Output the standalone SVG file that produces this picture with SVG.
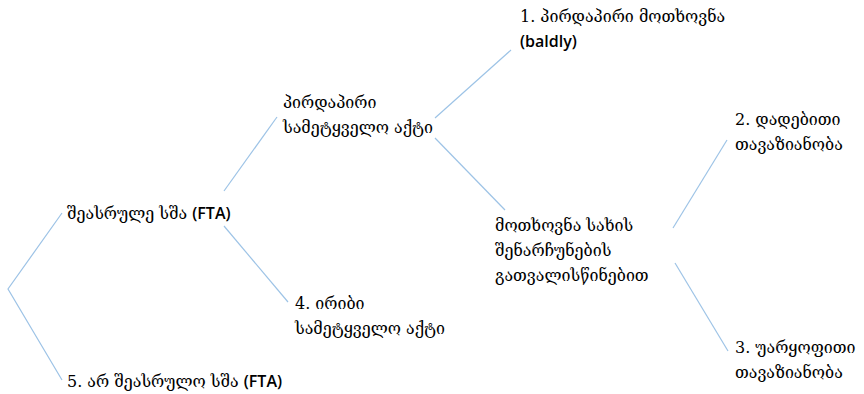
<svg xmlns="http://www.w3.org/2000/svg" width="864" height="394" viewBox="0 0 864 394">
<style>
.t{font-family:"DejaVu Serif","DejaVu Sans",serif;font-size:16px;fill:#000}
.l{font-family:"Open Sans","Liberation Sans",sans-serif;font-weight:600}
.c line,.c polyline{stroke:#9dc3e6;stroke-width:1.2;fill:none}
</style>
<rect width="864" height="394" fill="#fff"/>
<g class="c" id="connectors">
<polyline points="62,213 8,289 62,380"/>
<line x1="224" y1="226" x2="288" y2="302"/>
<line x1="224" y1="191" x2="277" y2="117"/>
<line x1="435" y1="118" x2="511" y2="50"/>
<line x1="435" y1="138" x2="505" y2="210"/>
<line x1="673" y1="228" x2="727" y2="140"/>
<line x1="675" y1="263" x2="728" y2="351"/>
</g>
<g id="n_fta"><text class="t" x="67" y="219">შეასრულე სშა <tspan class="l">(FTA)</tspan></text></g>
<g id="n5"><text class="t" x="67" y="387">5. არ შეასრულო სშა <tspan class="l">(FTA)</tspan></text></g>
<g id="n_direct"><text class="t" x="283" y="108">პირდაპირი</text><text class="t" x="283" y="133">სამეტყველო აქტი</text></g>
<g id="n4"><text class="t" x="295" y="309">4. ირიბი</text><text class="t" x="295" y="334">სამეტყველო აქტი</text></g>
<g id="n1"><text class="t" x="520" y="22">1. პირდაპირი მოთხოვნა</text><text class="t" x="520" y="47"><tspan class="l">(baldly)</tspan></text></g>
<g id="n_face"><text class="t" x="495" y="231">მოთხოვნა სახის</text><text class="t" x="495" y="256">შენარჩუნების</text><text class="t" x="495" y="281">გათვალისწინებით</text></g>
<g id="n2"><text class="t" x="735" y="125">2. დადებითი</text><text class="t" x="735" y="150">თავაზიანობა</text></g>
<g id="n3"><text class="t" x="735" y="353">3. უარყოფითი</text><text class="t" x="735" y="378">თავაზიანობა</text></g>
</svg>
